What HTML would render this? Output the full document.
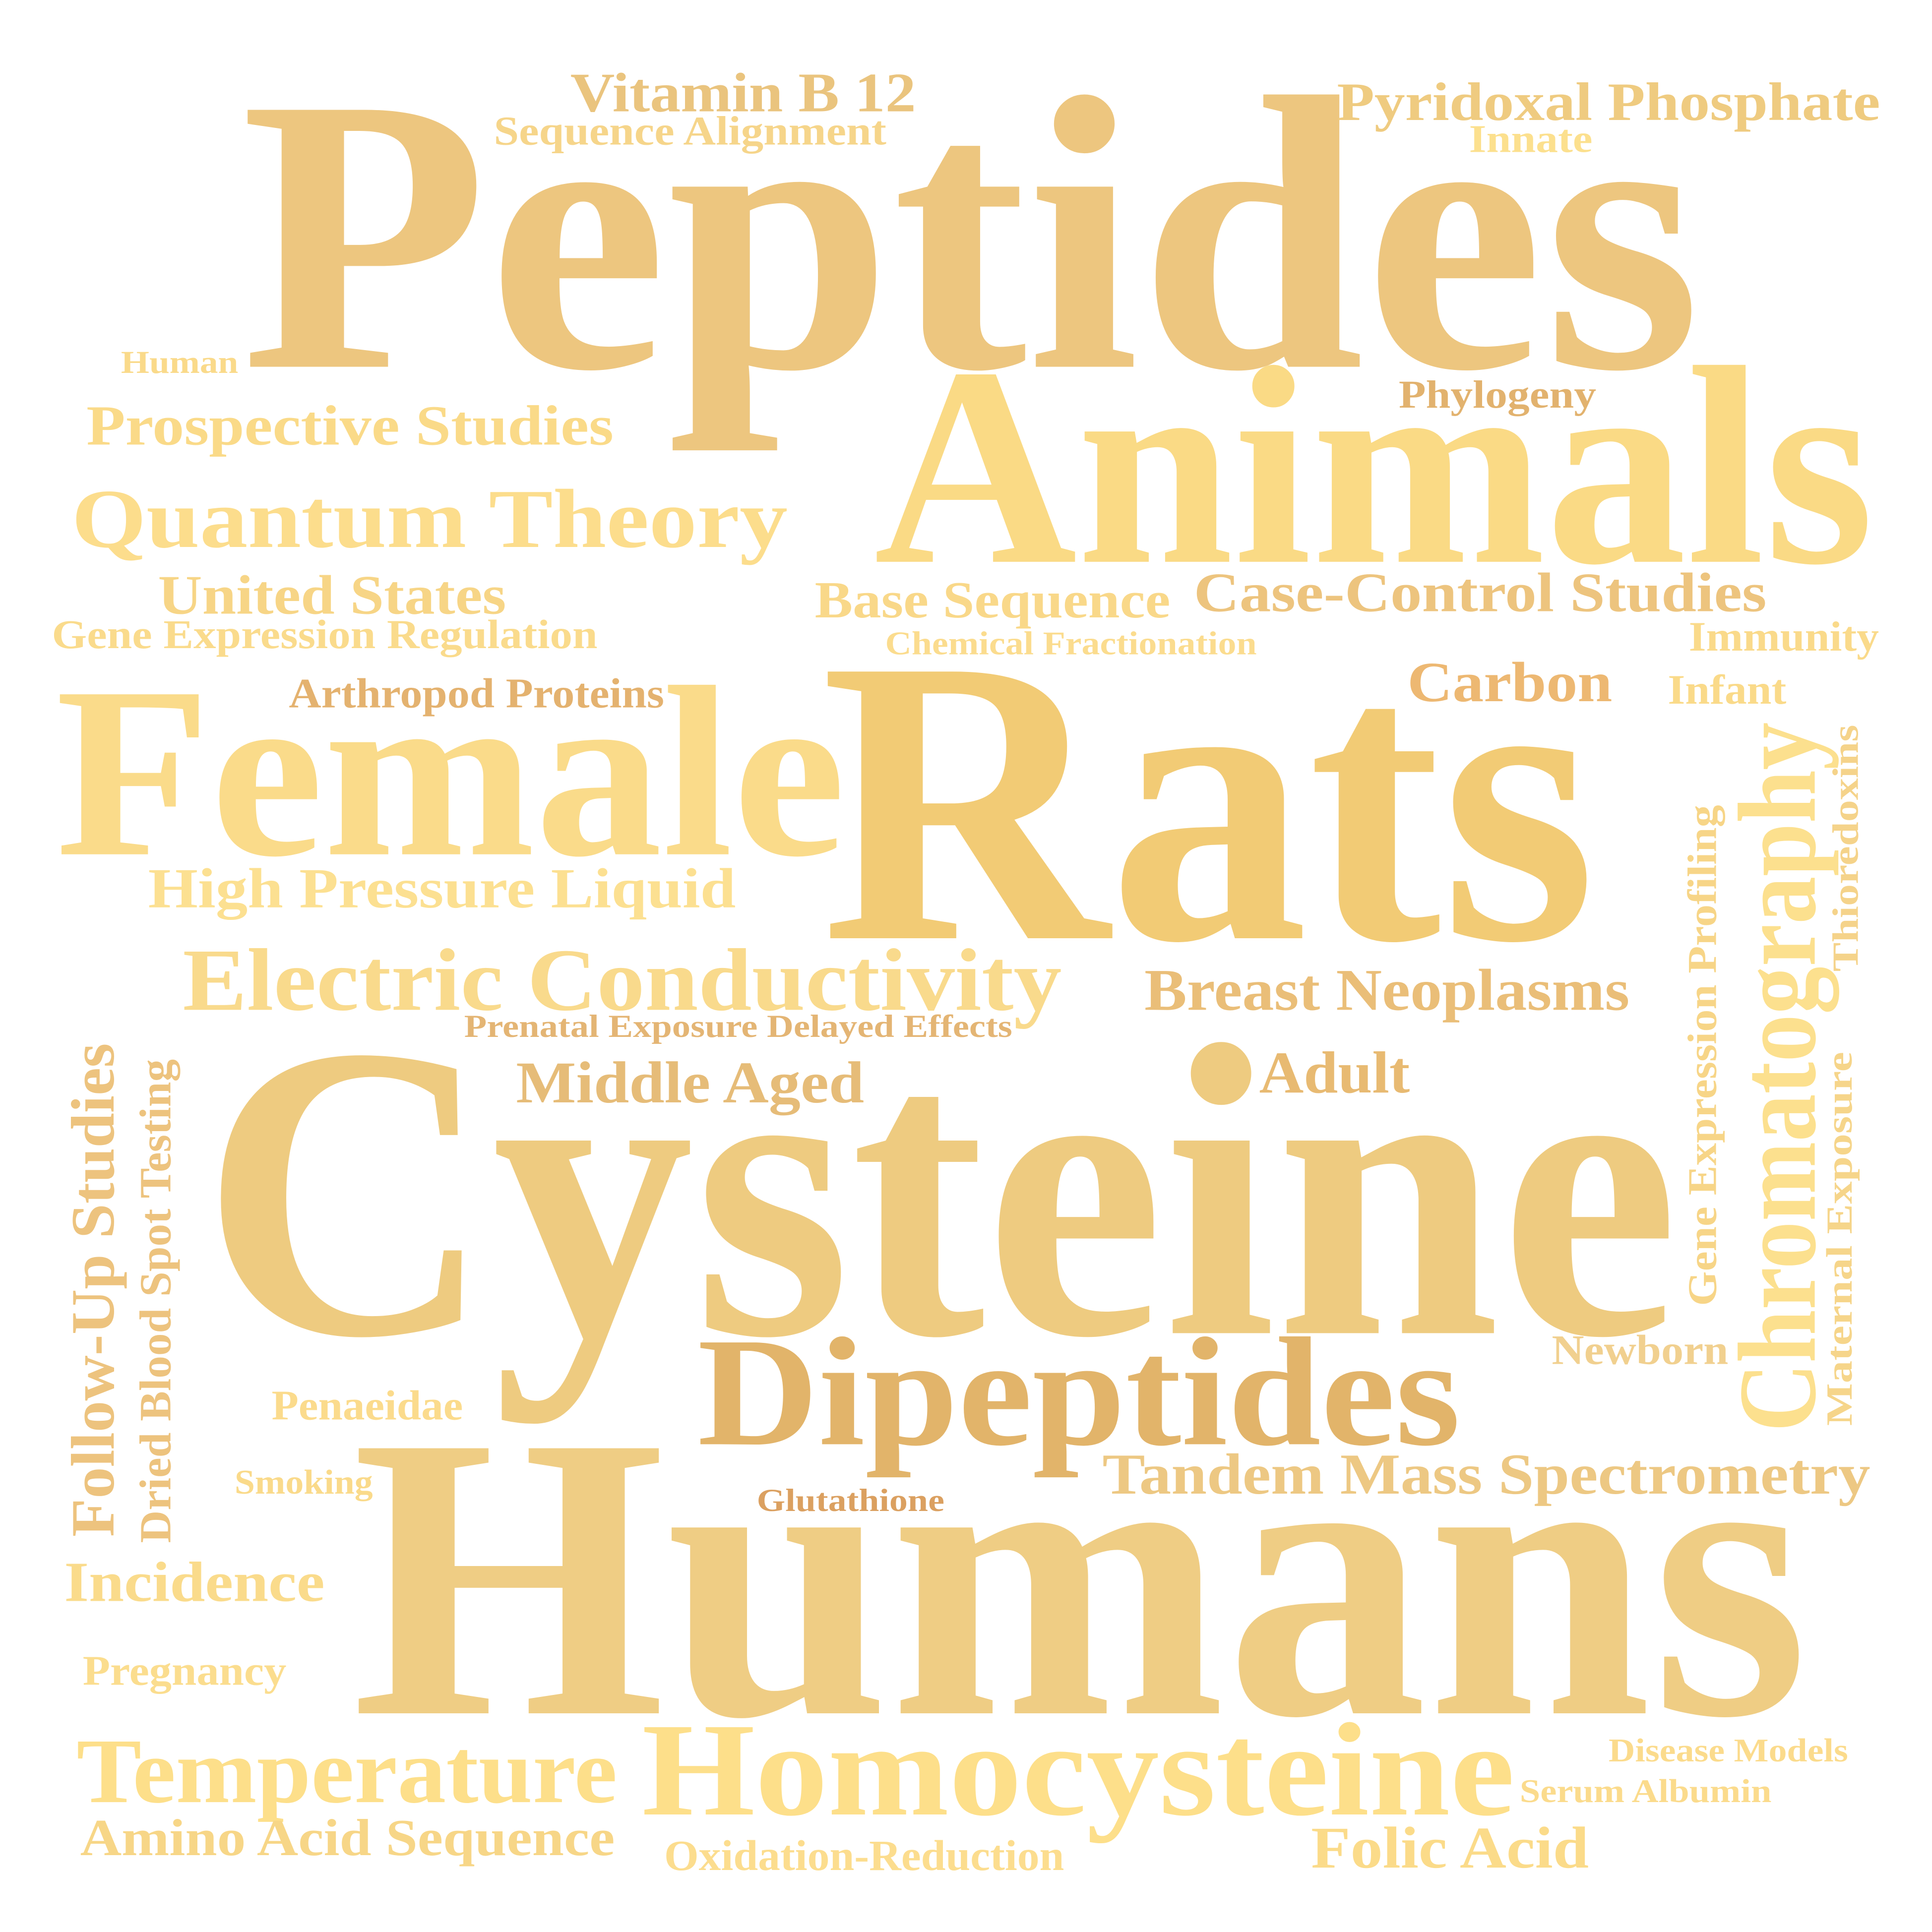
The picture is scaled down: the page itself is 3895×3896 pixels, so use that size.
<!DOCTYPE html>
<html><head><meta charset="utf-8"><style>
html,body{margin:0;padding:0;background:#fff;}
svg{display:block;}
text{font-family:"Liberation Serif",serif;font-weight:bold;}
</style></head>
<body>
<svg id="cloud" width="3895" height="3896" viewBox="0 0 1565 1565" xmlns="http://www.w3.org/2000/svg">
<rect width="1565" height="1565" fill="#fff"/>
</svg>
<script>
const words = ["Peptides","Vitamin B 12","Sequence Alignment","Pyridoxal Phosphate","Innate","Human","Phylogeny","Prospective Studies","Animals","Quantum Theory","United States","Gene Expression Regulation","Base Sequence","Case-Control Studies","Chemical Fractionation","Immunity","Carbon","Infant","Arthropod Proteins","Female","Rats","High Pressure Liquid","Electric Conductivity","Breast Neoplasms","Prenatal Exposure Delayed Effects","Middle Aged","Adult","Cysteine","Dipeptides","Newborn","Penaeidae","Tandem Mass Spectrometry","Smoking","Glutathione","Humans","Incidence","Pregnancy","Temperature","Homocysteine","Disease Models","Serum Albumin","Amino Acid Sequence","Oxidation-Reduction","Folic Acid","Follow-Up Studies","Dried Blood Spot Testing","Gene Expression Profiling","Chromatography","Maternal Exposure","Thioredoxins"];
const sizes = [318,45,33,44,32,26,32,46,230,68,45,33,42,45,27,34,46,34,34,198,330,46,72,48,26,48,48,340,126,34,34,47,28,26,328,46,34,75,108,27,27,42,35,48,50,36,33,90,30,30];
const xs = [195,462,400,1083,1190,98,1133,70,708,58,128,42,660,967,717,1368,1140,1351,234,45,665,120,148,927,376,418,1020,163,565,1257,220,893,190,613,285,52,67,62,520,1303,1231,65,538,1062,92,138,1390,1470,1500,1505];
const ys = [297,90,117,97,123,302,330,360,455,443,497,525,500,495,530,527,568,570,573,692,760,735,818,818,840,893,885,1080,1170,1105,1150,1210,1210,1224,1388,1297,1365,1460,1470,1427,1460,1503,1515,1513,1245,1250,1058,1160,1155,787];
const lens = [1183,280,318,440,100,95,160,427,810,580,282,442,288,464,301,154,166,96,304,640,628,476,712,393,444,282,122,1197,618,143,155,622,112,152,1180,211,165,438,707,194,204,433,324,225,400,392,406,575,303,200];
const rot = [0,0,0,0,0,0,0,0,0,0,0,0,0,0,0,0,0,0,0,0,0,0,0,0,0,0,0,0,0,0,0,0,0,0,0,0,0,0,0,0,0,0,0,0,1,1,1,1,1,1];
const colors = ["#EDC67F","#EAC47E","#F6D58A","#EFCB80","#FCE08E","#FADA8A","#E2B26E","#FADA88","#FADA85","#FCDD8C","#F7D586","#FADB8C","#F9D889","#EDC47E","#FBDC8E","#FADA8A","#EDB872","#FADA89","#E4B26F","#FADB8A","#F2CB75","#FCE091","#F9DA8C","#EABE78","#E4B574","#E6BC78","#E8BA72","#EECB80","#E2B46A","#F1D08F","#FBDB8C","#EDC883","#FADA8A","#DBA060","#EFCD84","#FADB8B","#FBDD8E","#FDDF8A","#FDDF8A","#FBDB8C","#FBDB8C","#F7D687","#FCDD8E","#FBDB89","#EDC37E","#EDC37E","#F7D587","#FCE08E","#F6D58A","#F5D38A"];
const svg = document.getElementById('cloud');
for (let i = 0; i < words.length; i++) {
  const t = document.createElementNS('http://www.w3.org/2000/svg','text');
  
  
  t.setAttribute('font-size', sizes[i]);
  t.setAttribute('fill', colors[i]);
  t.setAttribute('textLength', lens[i]);
  t.setAttribute('lengthAdjust', 'spacingAndGlyphs');
  if (rot[i]) {
    t.setAttribute('transform', 'translate(' + xs[i] + ',' + ys[i] + ') rotate(-90)');
  } else {
    t.setAttribute('x', xs[i]);
    t.setAttribute('y', ys[i]);
  }
  t.textContent = words[i];
  svg.appendChild(t);
}
</script>
</body></html>
